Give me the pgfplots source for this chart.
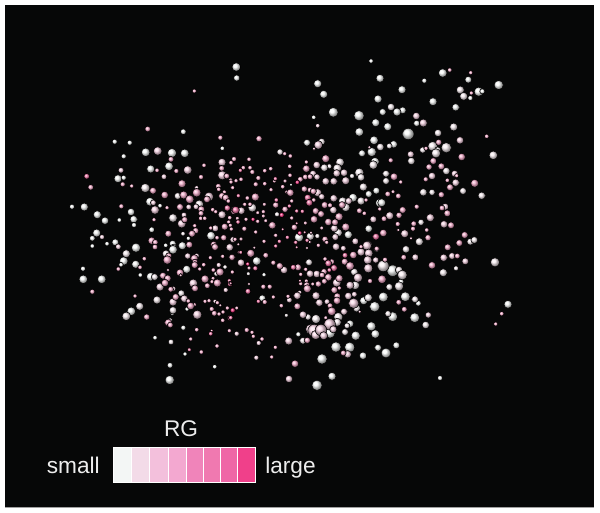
\documentclass[border=0pt]{standalone}
\usepackage{pgfplots}
\pgfplotsset{compat=1.18}
\usepackage{fontspec}
\setmainfont{Liberation Sans}
\definecolor{cW}{HTML}{FAFCFB}
\definecolor{cV}{HTML}{FBF1F5}
\definecolor{cS}{HTML}{F9D6E6}
\definecolor{cL}{HTML}{F6AECD}
\definecolor{cP}{HTML}{F176A8}
\definecolor{cH}{HTML}{EC2F7A}
\definecolor{bg}{HTML}{060707}
\definecolor{edge}{HTML}{A0A0A0}
\definecolor{txt}{HTML}{EDEDED}
\definecolor{k1}{RGB}{243,246,245}
\definecolor{k2}{RGB}{243,219,232}
\definecolor{k3}{RGB}{243,192,220}
\definecolor{k4}{RGB}{243,168,208}
\definecolor{k5}{RGB}{240,132,186}
\definecolor{k6}{RGB}{240,121,176}
\definecolor{k7}{RGB}{239,102,166}
\definecolor{k8}{RGB}{240,64,138}
\pgfplotsset{
  balls/.style={only marks, scatter, mark=ball, mark options={ball color=#1},
    scatter/use mapped color={ball color=#1},
    visualization depends on={1.08*\thisrow{r} \as \rr},
    scatter/@pre marker code/.append style={/tikz/mark size=\rr pt}},
  cell/.style={fill=#1, draw=white, line width=0.5pt}
}
\begin{document}
\begin{tikzpicture}
\begin{axis}[
  width=450pt, height=384.75pt, scale only axis,
  xmin=0, xmax=600, ymin=0, ymax=513, y dir=reverse,
  axis lines=none, clip=true]
\addplot[fill=white, draw=none] coordinates {(0,0) (600,0) (600,513) (0,513)} -- cycle;
\addplot[fill=bg, draw=none] coordinates {(5,5) (594,5) (594,507) (5,507)} -- cycle;
\addplot[draw=edge, line width=0.5pt] coordinates {(5,507.5) (594,507.5)};
% white
\addplot[balls=cW] table[row sep=crcr] {x y r\\
183.3 131.7 2\\114.7 141.7 1.8\\129.7 142.7 1.8\\222.3 148.3 1.6\\123.7 156.3 1.8\\145.7 152.3 3\\172 153 3.2\\184.7 153.3 3\\150.7 169 2.8\\169 166.3 3\\118 178.7 2.8\\123.7 177.7 1.8\\150 201.7 3\\72 206.7 1.8\\84.3 207 2.8\\160 205.7 1.6\\131 212 2.6\\97.3 214.7 2.8\\105 220.7 2.6\\133.7 219.3 2.6\\119.3 220 1.6\\134 225 1.8\\151.7 229.7 2\\96.7 233 2.8\\211 235.7 3\\92.3 238.3 2\\188.3 238.3 1.5\\115.3 242.3 2.4\\107 243.7 1.6\\92.3 246 1.6\\172.7 243.7 2.4\\165.7 245.3 1.6\\182.3 245.7 2.8\\136 247.7 3.2\\173.3 248.3 2.8\\
173 249.7 3\\123.7 261 3\\135.7 264.3 2.8\\121 264.7 1.6\\83 268.7 1.8\\186.7 269.3 2.8\\140.3 275 1.6\\150.7 276.7 3\\83.3 279.3 3\\101.7 279.3 3\\187 309 1.5\\131.3 311.3 3\\172.3 313.3 1.5\\183.3 327.7 1.8\\155 337.7 1.6\\185 354 1.5\\170 365.3 2\\214.7 366.7 1.6\\169.7 380 3.2\\
375.7 122.7 2.8\\359.3 132 3\\374 140.3 3\\307 142.7 2.4\\371.7 152 3.2\\362 153.3 2.4\\375 161.7 3\\291 184.7 1.2\\376.3 190.7 2.4\\368.7 194 2.4\\353 197.7 3\\379.7 203 3\\299 237.3 3.2\\348.3 234.7 2.8\\368.7 228.7 2.6\\
256.7 261 3\\264 274.7 1.5\\262.3 298.3 2.4\\298.3 334.3 1.8\\350 323.7 2.6\\371.3 326.3 3.2\\330 333 3.6\\355.7 335.7 3.2\\375.3 334 3\\336 347 3.6\\349.7 347.3 3.6\\378 347.7 2.4\\363 355.7 2.6\\322 359 3.6\\332 376.3 2.8\\317 385.3 3.6\\363.7 300.7 2.8\\374.7 306.7 3.6\\
371 61 1.6\\442.7 73 3\\424.3 80.7 1.8\\468.3 79.7 2.4\\380 78.3 2.8\\498.7 85 3.2\\402 89.7 2.8\\478.7 91.7 3.2\\482.3 91.3 1.8\\470.3 98 1.8\\378 99 2.8\\433 101.7 2.8\\455.7 107.3 2.6\\402.7 110.3 2.4\\397 112 2.8\\382.7 112 2.4\\416.7 123.3 2.2\\387.7 126.7 2.8\\408.3 134 4\\393.7 144.3 2.6\\381.7 202.7 2.8\\
392.7 270.7 4\\401 281.7 2\\383.3 297 3.4\\405.3 296.7 3.4\\418.3 303.3 2\\508 304.3 2.8\\392.7 316.7 3.4\\414.7 317.7 3.4\\396.3 345.3 2.4\\386 353 3.4\\440 378 1.8\\
236.3 67 3\\236.7 78 2.2\\317.7 83.7 2.8\\323.7 94.3 2.8\\333.3 112.3 3.4\\359 115.7 3.6\\313.7 117.3 1.6\\
};
% nearly white
\addplot[balls=cV] table[row sep=crcr] {x y r\\
145.3 188 3.2\\177.7 196 2.4\\199.3 204.3 3\\173 218 3\\183 233.7 1.6\\126.3 253.7 2.8\\166 253.7 2.6\\225 267 1.6\\216.3 273.7 1.8\\154.7 277 2.4\\181.3 293.3 2.4\\157 300 2.8\\139.7 306.3 2.8\\173 310.3 2.6\\126.3 316.3 3\\170.3 320 1.5\\171 342 2\\
321.7 141.7 2.4\\280 152 2.2\\373.3 165 3\\340 162.3 3\\329.3 166.3 1.8\\337.3 168.3 3\\324.3 167.7 2.6\\359.3 172.7 3.2\\352 176 1.8\\361 177.3 2.6\\363.3 187 2.8\\342.7 201.3 3\\361 201 2.8\\252.3 207.7 3\\345.7 207.3 3\\277 214.3 1.8\\310.3 236.3 2.8\\338.3 232.7 2.8\\317.3 236 1.8\\
376.7 249 2.2\\309 262.3 2.4\\354.3 272 2.6\\248.3 273.7 1.4\\355.3 285.3 3\\368.3 297.7 2.8\\356.7 308.3 2.6\\286.3 315.3 1.4\\308 317 2.2\\338.3 317 3.2\\316 319 3.2\\337.3 322.3 2.8\\347 325.7 2\\345 332 2.4\\303 340.7 2.4\\
460.3 90 2.8\\463.7 96.3 2.8\\391 107 2.6\\453.7 127 2.8\\438 133 2.6\\380.3 147 2.6\\389.3 146 2\\432.7 146.3 3.4\\446.3 147.7 3.6\\422.7 150 2.2\\437.7 150 2.2\\436 153.3 3.2\\493.3 155.3 3\\411.3 161 2.6\\386 173.7 2.4\\446.3 171 2.6\\386 181 2.4\\463 191 2.4\\423.3 192.3 2.6\\432 192.3 2.2\\481.7 195.7 2.6\\
421 222.3 2.2\\419.3 241.7 2.8\\470.3 241.7 2.4\\474.3 240 2.4\\406 249.3 2.6\\495 262.3 3.2\\383.3 266 4\\399 270 2.6\\402.3 275 3.4\\456 268.3 1.8\\443.3 272.7 2.8\\399 286.3 3.2\\389.3 287 2.4\\415 299.3 2.4\\388 313.7 2.2\\425.7 325 2.6\\
};
% very light pink
\addplot[balls=cS] table[row sep=crcr] {x y r\\
157.7 151 3\\222 162.3 2.8\\187.7 170 3\\121 170.3 2\\164 176.7 2\\222.3 175.3 3.2\\196.7 187.7 1.5\\209 196.7 3.2\\153.3 202.7 2\\188.7 207 2\\196 206.7 2\\155 210 3\\184 215 2\\222 214.7 2.8\\181.7 223.7 3\\215.3 228.3 2.4\\102 237 1.8\\118.3 246.7 2\\229.7 247.3 2.6\\
187.7 256 2.2\\196.7 255.7 1.8\\218.7 265 1.8\\193.3 283.3 3\\160 287 2.8\\225.7 290 1.8\\173.3 288.7 1.8\\184.3 298.7 2.6\\173 302 2.8\\215 301.3 1.5\\197.3 314.7 3.2\\237 333.7 1.8\\
317.7 125.7 1.6\\318.3 145 3\\316.7 165 2.6\\313 173.7 2.4\\344 172.7 2.6\\336.7 173.3 2.6\\317 177 2.2\\325.7 181.3 2.6\\333.7 181.3 2.6\\345.7 180.7 2.8\\317.7 192.7 2.8\\321.7 196.7 2.2\\333.7 198.3 2.6\\348.7 201 2.4\\333.3 210 2.6\\234.7 210.3 2.8\\241.3 210.7 2.6\\373.3 219.3 2.4\\334.3 228.3 2.6\\231 229 1.5\\375.7 236.7 2.4\\335.3 237 2.4\\233 239.7 2.2\\355.3 241.3 2.4\\368 245 3\\336 246.7 2.6\\343.3 248.3 2\\
367 245.7 3.2\\361 252 2.8\\368.7 253.3 3\\367.7 260 3\\375.7 260 2.2\\232 257.3 2.4\\241 262.7 2.6\\284 270 2.6\\368.3 268.3 3.2\\316.7 274 2.6\\310 273.7 2.6\\358 277.7 3.2\\336.7 282.7 3\\350 285.3 2.8\\299.7 292.3 1.5\\297.3 295.7 2.6\\316 295.7 2.8\\348.3 296 2.6\\354.3 294.3 2\\289.3 300 2\\327 301.7 2\\319.3 302.7 2.6\\353.7 303.3 3.6\\344 311.7 2.4\\303 314.7 2.6\\329.7 324.3 4\\310.7 329.3 3.6\\314.3 330.7 4.5\\315.7 335 3.2\\321 330 4\\323.7 335.7 2.8\\333.3 329.3 2.5\\236.7 333.7 1.8\\258.7 343 1.8\\288.7 341 2.8\\347.7 354.3 2.6\\256.3 357.7 1.8\\289 379 2.6\\
416.3 116 2.6\\423.3 123 2.8\\460 140.3 2.6\\410.7 154.3 2.4\\454.7 173.7 2.4\\432 176 2.6\\455.7 182.7 2.6\\445.3 206.7 2.4\\389.7 215.7 2.8\\430.3 217.7 2.8\\
444 224.3 2.6\\404.7 233.7 2.8\\443.7 257.7 2.6\\452 256 2.4\\415.3 257.3 2.4\\465.3 261.3 2.4\\428.3 315 2.2\\
};
% light pink
\addplot[balls=cL] table[row sep=crcr] {x y r\\
147.7 129 2\\220.3 137.7 1.8\\171 159.3 2\\234 159 1.8\\231 162.7 1.6\\204 165.3 1.6\\157 170.3 1.6\\176.3 171 1.8\\221.7 168.3 2\\201 177 1.8\\226.7 176 2\\230.7 180 1.5\\235.7 181 1.5\\122.7 184.3 1.8\\90.7 187.3 2\\131.7 186 1.5\\182 183.7 2.8\\218.3 186.3 2\\232.7 187.3 1.4\\218.7 189.3 1.6\\153 190.7 2.4\\196.7 192.7 3\\164.7 195 2.6\\183.7 195 2.8\\189.7 199.3 3\\207 199.3 2.4\\224.3 192 1.5\\222 196 2.4\\225.7 197.7 2.4\\228.3 201 1.6\\121.3 206.3 1.8\\167 207.7 1.5\\180 207 2.4\\201.3 209.3 2.4\\212.7 209.7 1.6\\201 213.3 2\\215.7 211.7 1.5\\233.7 211.7 2\\154 219.7 1.5\\200.7 218.3 1.6\\204.7 218.3 1.6\\184.7 219.7 2.2\\229.7 217.7 1.6\\228.7 222 1.5\\194.7 225.7 1.5\\224.7 226.7 2.4\\230.3 225.3 1.5\\210.7 228 1.5\\231.3 229 1.5\\195.7 230.7 2.2\\168.3 233.7 2.4\\192 233.7 2.4\\223.7 237.7 2.2\\217 237.7 1.6\\235 239.3 1.5\\151.7 240.7 2.6\\155.3 242.3 2\\189.3 244.7 2.4\\213.7 244.3 2.2\\215 247 2.4\\155 247 2\\
168.7 256 2.2\\144.3 258.7 1.6\\167.3 260 3\\194.3 258.3 2.6\\195 262 2\\194.7 265 2.4\\210.3 257.7 1.5\\222.7 256.3 1.5\\232 257.3 2.2\\203.7 264.7 1.6\\140 267.3 1.6\\118.3 269 1.6\\168 270 1.3\\199.7 269 1.5\\180 272.7 2.6\\180.7 275.3 1.3\\213.3 270 1.6\\220 272 2.8\\232.7 272.3 1.5\\163 275.7 2.4\\167.7 278.3 2.4\\205 279 2.8\\213 278.3 1.4\\212 281.7 1.5\\217.3 283 2.8\\165 283 2.6\\207.3 285.7 2\\195 288.3 2.4\\170.7 289.3 2\\92.3 291.7 1.8\\135 296 1.5\\175.7 297 2.4\\188.3 301 1.6\\205 301.3 1.5\\209 300.7 1.5\\217.3 302.7 1.5\\220.3 305.3 1.3\\194.3 304.7 1.5\\190.7 306 2.6\\227.3 308 1.5\\211.7 309 1.8\\236.7 308 1.4\\223 312 1.5\\214.3 313.3 2\\219 314 1.5\\146.7 317 2.2\\222.7 320.3 1.6\\168.3 322.7 2.6\\170.3 325 2\\196.7 329.7 1.6\\229.3 330.7 1.5\\190.7 339 1.5\\217 346 1.6\\201.3 352 1.6\\
259 138.7 2.2\\314 148.7 1.3\\284.7 153.7 1.5\\290.3 156 1.6\\325.7 158.7 2.8\\369.3 147.3 1.3\\306.3 162 1.5\\249 159.3 1.6\\289.7 166.3 1.6\\306.3 168.7 2.6\\250 167.7 1.6\\243.3 167.7 1.6\\252.3 172 1.8\\264.7 170.7 1.6\\270.7 168.7 1.6\\305.3 177 2\\310 176.7 2\\290 175.3 1.6\\300.3 179.3 2\\258.3 178 1.8\\236 180.7 1.5\\241 179.3 1.6\\274.3 181 1.4\\285 181 1.4\\231 182 1.5\\255.7 184.3 1.8\\264.7 183.7 1.6\\282.7 186.7 1.6\\232.7 187.7 1.5\\304.3 189 2.2\\310 190 2\\286.7 192 1.4\\271 189.7 1.5\\290.3 192.7 2.6\\313.3 191.3 2.2\\255.3 197 2.8\\247.3 198 1.6\\291.7 201 1.5\\313.7 200 1.6\\366 200 1.5\\244.7 204.3 1.5\\250 204.3 1.6\\264.3 204.3 1.4\\275.7 205 2.2\\324.7 205 2.4\\330 205.3 1.8\\342 205 2.4\\285 209.3 2.2\\315.7 211 2.4\\321 214 2.4\\359.3 210.7 2\\364.3 213.3 1.6\\257.7 212.7 1.4\\263.3 211.7 1.5\\291.7 218 1.5\\314 219.3 2.6\\339 216.7 2.8\\237.3 218.3 1.4\\246 219.3 1.5\\263.3 216 1.4\\257.7 221.3 1.5\\265.7 220.7 1.4\\305.3 223 1.4\\328.3 222 2.6\\335 222.3 2.4\\272.3 225.3 2.6\\294.3 227.3 2.2\\345.7 227 2.8\\321.7 228 1.4\\244.3 228.7 1.8\\255.7 232 1.5\\311 232.7 1.3\\275.7 235.3 1.5\\325 239.3 2.2\\264 241.3 1.5\\309.7 242 1.3\\241 239 1.4\\361 246.7 1.5\\254.3 247.7 1.3\\238.3 244.3 1.3\\307 248 1.3\\318.3 245.3 1.5\\326.7 242.3 1.5\\
353.3 255 2.6\\344.7 261.7 2.4\\250.7 253.3 2.8\\265.7 255.3 2\\273.3 262.7 1.8\\279.7 266 2.4\\298 267.3 2.4\\249 268 1.4\\331.7 261.7 2\\325 259 1.6\\350 266 3\\324 271.7 2.2\\305.7 269.3 1.5\\232.3 272 1.5\\300.7 274.3 1.5\\322 275 2\\328.3 277.3 2.6\\339.3 278.3 2.6\\306.3 281 1.5\\324.3 281.3 2\\318.3 284 2.2\\370 281 1.8\\300.7 283.7 1.5\\306.7 285 2.2\\312.7 284 1.4\\307.3 288.7 2.8\\249 284 1.3\\263.3 286.7 1.8\\269.7 286.7 1.8\\334.3 290 2.4\\339.3 288 1.5\\273.3 297 1.5\\288 296.3 1.5\\337.3 296.3 2.4\\264.7 302 1.8\\337 300.7 2.6\\281.3 305.7 1.6\\297.3 306.3 2.4\\330 305.7 2\\236.7 308 1.4\\331.7 311.3 3\\359.7 311.7 1.3\\325.7 317.7 1.4\\246.7 330 1.8\\252 332.3 1.5\\253.3 336.3 1.5\\262 339 1.6\\307.3 340.3 2.2\\275.3 347.3 1.5\\343.3 353 2\\271.7 357 1.5\\295 363.7 2.6\\
449.7 70 1.6\\470.7 72.7 1.5\\471.3 93 1.5\\486.7 136.3 1.6\\438.7 142.3 2.2\\426 148.3 1.5\\461.7 157 2.6\\390.7 160.3 1.8\\433.3 161 2.4\\429 167 2.2\\441.3 166.3 2.4\\456.7 175.7 1.5\\394 176.7 2.6\\425.7 179.3 1.8\\447.3 180.3 1.6\\400.7 182 1.5\\474.7 183.3 2.8\\450 187.3 2.4\\441.3 194.7 2.2\\387.7 194 2\\393 191.7 1.4\\398.3 196 2\\416.7 206.7 1.8\\442 208 2\\402.7 210 2.4\\379.7 209 1.5\\447.3 213.3 2.4\\399 215.3 2.2\\384 218.7 2\\194.3 91 1.5\\
451 225.3 2.4\\413.7 223.7 2\\413 228.7 1.8\\397.7 224 1.8\\426.7 230 1.6\\398.3 230 1.3\\383.3 233 2.6\\464.7 235 2.4\\428 237.7 2.2\\411 238.3 1.3\\459.3 243 2.4\\447.7 247.3 2.4\\376.7 248.7 1.8\\403.7 257.3 2\\457.3 256 2\\385 259.7 1.8\\432 265.3 2.6\\382 279.3 3\\398.7 302.3 2\\404.3 309.3 2\\501.7 313.7 1.6\\495.7 324 1.5\\
};
% pink
\addplot[balls=cP] table[row sep=crcr] {x y r\\
86.7 176.3 2\\238.3 195.7 1.5\\227.3 208 2.2\\235.7 210 2.6\\238 222 1.6\\238.7 252.3 1.3\\229.3 280.7 1.5\\230 284 1.8\\230 318 2\\211.7 330.7 1.3\\210.7 333.7 1.6\\189.3 349.7 1.4\\240.3 170.3 1.5\\275.3 178.7 1.5\\307.7 197.7 2.4\\276.3 200 1.6\\309.3 202.7 2.4\\289.3 206 1.5\\296.7 211 1.5\\302.3 211.3 1.5\\296.7 223.3 1.3\\282.7 229.3 1.3\\304.7 232.3 1.3\\287.3 237.3 1.5\\275.7 246 1.5\\279.3 241.3 1.5\\295.7 242.3 1.5\\307 240.3 1.5\\296.7 247.3 1.3\\240.7 252.3 1.4\\345 255.3 2\\293.3 267.3 2\\255.3 268.3 1.8\\328.3 263.3 2.4\\334 268 2.4\\329.3 270 1.6\\300 280.7 1.3\\230.7 283.3 1.3\\248 291.3 2\\258.3 301.3 1.5\\232.3 310 1.6\\230.7 317.7 1.6\\376 236.7 2.4\\
};
% hot pink
\addplot[balls=cH] table[row sep=crcr] {x y r\\
297.3 182.3 1.6\\281.7 215 1.8\\253 219.3 1.5\\299.7 233 1.6\\247.7 264 1.5\\232.7 310.3 1.8\\
};
% colour bar
\addplot[cell=k1] coordinates {(113,447) (131,447) (131,482) (113,482)} -- cycle;
\addplot[cell=k2] coordinates {(131,447) (149.7,447) (149.7,482) (131,482)} -- cycle;
\addplot[cell=k3] coordinates {(149.7,447) (168.3,447) (168.3,482) (149.7,482)} -- cycle;
\addplot[cell=k4] coordinates {(168.3,447) (186.3,447) (186.3,482) (168.3,482)} -- cycle;
\addplot[cell=k5] coordinates {(186.3,447) (203.7,447) (203.7,482) (186.3,482)} -- cycle;
\addplot[cell=k6] coordinates {(203.7,447) (220.7,447) (220.7,482) (203.7,482)} -- cycle;
\addplot[cell=k7] coordinates {(220.7,447) (237.7,447) (237.7,482) (220.7,482)} -- cycle;
\addplot[cell=k8] coordinates {(237.7,447) (255.7,447) (255.7,482) (237.7,482)} -- cycle;
\node[text=txt, font=\fontsize{17}{18}\selectfont, anchor=center] at (axis cs:181,429) {RG};
\node[text=txt, font=\fontsize{17}{18}\selectfont, anchor=base east, inner sep=0pt] at (axis cs:100,473) {small};
\node[text=txt, font=\fontsize{17}{18}\selectfont, anchor=base west, inner sep=0pt] at (axis cs:265,473) {large};
\end{axis}
\end{tikzpicture}
\end{document}
